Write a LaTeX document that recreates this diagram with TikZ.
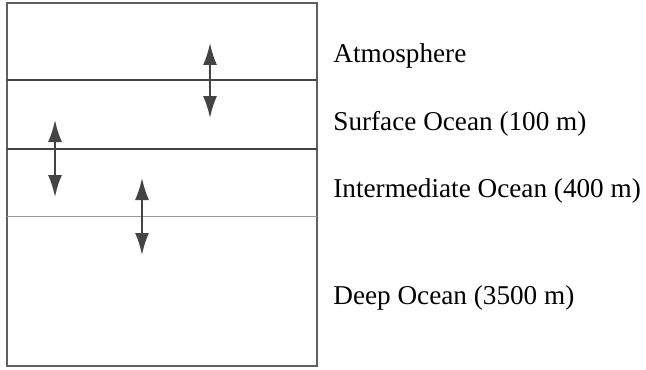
\documentclass[tikz,border=0pt]{standalone}
\usepackage{fontspec}
\setmainfont{Liberation Serif}
\usetikzlibrary{arrows.meta}

\definecolor{inkgray}{HTML}{444444}

\begin{document}
\begin{tikzpicture}[
  x=0.5pt, y=-0.5pt,
  every node/.style={font=\fontsize{13.6}{16}\selectfont},
  layer/.style={anchor=base west, inner sep=0pt},
  frame/.style={draw=inkgray!85, line width=0.75pt},
  boundary/.style={draw=inkgray, line width=1pt},
  softboundary/.style={draw=black!40, line width=0.8pt},
  exchange/.style={{Latex[length=11pt,width=7pt]}-{Latex[length=11pt,width=7pt]}, draw=inkgray, fill=inkgray, line width=1pt}
]
\useasboundingbox (0,0) rectangle (646,369);

% column of boxes
\draw[frame] (7,3) rectangle (317,366);
\draw[boundary] (7,80.5) -- (317,80.5);
\draw[boundary] (7,149) -- (317,149);
\draw[softboundary] (7,216.5) -- (317,216.5);

% labels
\node[layer] (atm) at (333,62) {Atmosphere};
\node[layer] (surf) at (333,130) {Surface Ocean (100 m)};
\node[layer] (inter) at (333,197) {Intermediate Ocean (400 m)};
\node[layer] (deep) at (333,304) {Deep Ocean (3500 m)};

% exchanges across the boundaries
\coordinate (a1) at (210,43);
\coordinate (a2) at (210,118);
\coordinate (b1) at (55,120);
\coordinate (b2) at (55,197);
\coordinate (c1) at (142,178);
\coordinate (c2) at (142,255);

\draw[exchange] (a1) -- (a2);
\draw[exchange] (b1) -- (b2);
\draw[exchange] (c1) -- (c2);

\end{tikzpicture}
\end{document}
